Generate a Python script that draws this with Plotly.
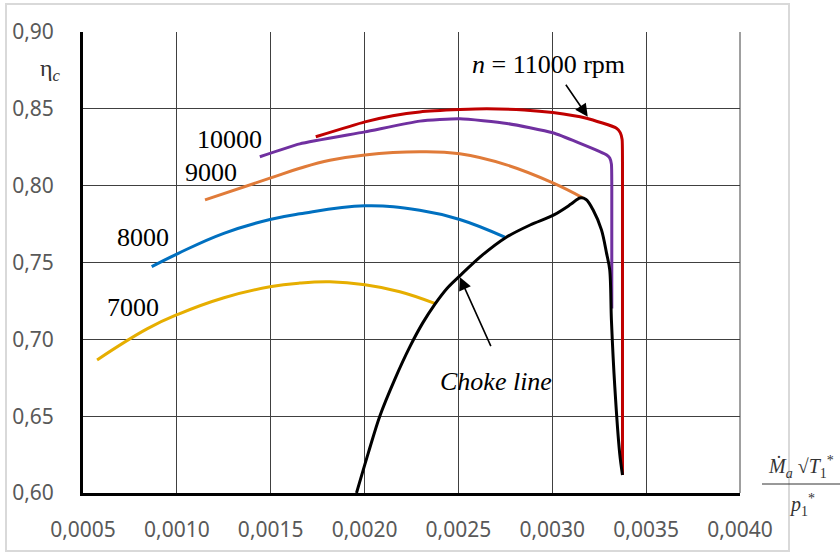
import plotly.graph_objects as go

# ---- data ----
x_7000 = [0.000575, 0.000841, 0.001006, 0.001251, 0.001496, 0.001655, 0.001815, 0.002002, 0.002188, 0.002374]
y_7000 = [0.6866, 0.7068, 0.7163, 0.7271, 0.7342, 0.7366, 0.7374, 0.7355, 0.7310, 0.7234]

x_8000 = [0.000866, 0.001008, 0.001250, 0.001496, 0.001655, 0.002002, 0.002294, 0.002507, 0.002747]
y_8000 = [0.7473, 0.7560, 0.7690, 0.7780, 0.7817, 0.7869, 0.7840, 0.7780, 0.7665]

x_9000 = [0.001150, 0.001496, 0.001655, 0.001815, 0.002002, 0.002294, 0.002507, 0.002756, 0.003003, 0.003162]
y_9000 = [0.7908, 0.8049, 0.8113, 0.8165, 0.8200, 0.8220, 0.8207, 0.8135, 0.8018, 0.7921]

x_10000 = [0.001442, 0.001655, 0.002002, 0.002294, 0.002507, 0.002758, 0.003003, 0.003253, 0.003290, 0.003306, 0.003315, 0.003317, 0.003317]
y_10000 = [0.8188, 0.8272, 0.8350, 0.8420, 0.8435, 0.8405, 0.8344, 0.8222, 0.8200, 0.8180, 0.8140, 0.8000, 0.7200]

x_11000 = [0.001740, 0.002002, 0.002150, 0.002294, 0.002507, 0.002651, 0.002850, 0.003003, 0.003182, 0.003342, 0.003362, 0.003372, 0.003374, 0.003374]
y_11000 = [0.8318, 0.8415, 0.8455, 0.8480, 0.8495, 0.8500, 0.8493, 0.8476, 0.8439, 0.8374, 0.8345, 0.8300, 0.8150, 0.6117]

x_choke = [0.001957, 0.002020, 0.002081, 0.002161, 0.002241, 0.002310, 0.002374, 0.002440, 0.002507, 0.002627, 0.002749, 0.002882, 0.003006,
           0.003100, 0.003147, 0.003180, 0.003217, 0.003262, 0.003289, 0.003306, 0.003315, 0.003333, 0.003359, 0.003374]
y_choke = [0.6000, 0.6261, 0.6500, 0.6740, 0.6951, 0.7107, 0.7228, 0.7333, 0.7413, 0.7548, 0.7660, 0.7744, 0.7808,
           0.7880, 0.7920, 0.7910, 0.7843, 0.7712, 0.7561, 0.7452, 0.7126, 0.6692, 0.6258, 0.6117]

x_ticks = [0.0005, 0.0010, 0.0015, 0.0020, 0.0025, 0.0030, 0.0035, 0.0040]
y_ticks = [0.60, 0.65, 0.70, 0.75, 0.80, 0.85, 0.90]

fig = go.Figure()

curves = [
    (x_7000, y_7000, "#E6AE00", "spline", 1.2),
    (x_8000, y_8000, "#0070C0", "spline", 1.2),
    (x_9000, y_9000, "#E07B39", "spline", 1.2),
    (x_10000, y_10000, "#7030A0", "spline", 0.5),
    (x_11000, y_11000, "#C00000", "spline", 0.5),
    (x_choke, y_choke, "#000000", "spline", 0.9),
]
for xs, ys, col, shp, sm in curves:
    fig.add_trace(go.Scatter(x=xs, y=ys, mode="lines",
                             line=dict(color=col, width=3, shape=shp, smoothing=sm),
                             showlegend=False, hoverinfo="skip"))

serif = "Liberation Serif, Times New Roman, serif"
lab_font = dict(family=serif, size=26, color="#000000")

L, T, W, H = 83, 32, 657, 461  # plot area in page pixels


def px(xp):
    return (xp - L) / W


def py(yp):
    return (T + H - yp) / H


annotations = [
    dict(x=0.002981, y=0.8786, text="<i>n</i> = 11000 rpm", showarrow=False, font=lab_font),
    dict(x=0.001283, y=0.8298, text="10000", showarrow=False, font=lab_font),
    dict(x=0.001182, y=0.8083, text="9000", showarrow=False, font=lab_font),
    dict(x=0.000820, y=0.7660, text="8000", showarrow=False, font=lab_font),
    dict(x=0.000766, y=0.7204, text="7000", showarrow=False, font=lab_font),
    dict(x=0.002699, y=0.6723, text="<i>Choke line</i>", showarrow=False, font=lab_font),
    # arrows
    dict(x=0.003189, y=0.8448, ax=0.003051, ay=0.8695, axref="x", ayref="y", text=" ",
         showarrow=True, arrowhead=2, arrowsize=1.6, arrowwidth=1.6, arrowcolor="#000"),
    dict(x=0.002507, y=0.7405, ax=0.002694, ay=0.6898, axref="x", ayref="y", text=" ",
         showarrow=True, arrowhead=2, arrowsize=1.6, arrowwidth=1.6, arrowcolor="#000"),
    # y axis title
    dict(xref="paper", yref="paper", x=px(50), y=py(70), xanchor="center", yanchor="middle",
         text="η<sub><i>c</i></sub>", showarrow=False,
         font=dict(family=serif, size=24, color="#333333")),
    # x axis title (fraction)
    dict(xref="paper", yref="paper", x=px(801), y=py(467), xanchor="center", yanchor="middle",
         text="<i>Ṁ</i><sub><i>a</i></sub> √<i>T</i><sub>1</sub><sup>*</sup>", showarrow=False,
         font=dict(family=serif, size=20, color="#333333")),
    dict(xref="paper", yref="paper", x=px(802), y=py(505), xanchor="center", yanchor="middle",
         text="<i>p</i><sub>1</sub><sup>*</sup>", showarrow=False,
         font=dict(family=serif, size=20, color="#333333")),
]

shapes = [
    # outer light border
    dict(type="rect", xref="paper", yref="paper",
         x0=px(6), x1=px(789), y0=py(551), y1=py(4),
         line=dict(color="#D9D9D9", width=2), layer="below"),
    # right edge grid line
    dict(type="line", xref="paper", yref="paper", x0=1, x1=1, y0=0, y1=1,
         line=dict(color="#404040", width=1)),
    # fraction bar
    dict(type="line", xref="paper", yref="paper",
         x0=px(762), x1=px(840), y0=py(484), y1=py(484),
         line=dict(color="#333333", width=1)),
]

fig.update_layout(
    width=840, height=552,
    margin=dict(l=L, r=840 - L - W, t=T, b=552 - T - H, autoexpand=False),
    plot_bgcolor="white", paper_bgcolor="white",
    separators=", ",
    annotations=annotations, shapes=shapes,
    font=dict(family="Noto Sans, sans-serif", size=21, color="#595959"),
)
fig.update_xaxes(range=[0.0005, 0.0040], tickvals=x_ticks, tickformat=".4f",
                 showgrid=True, gridcolor="#404040", gridwidth=1,
                 showline=True, linecolor="#000000", linewidth=3, mirror=False,
                 zeroline=False, ticks="", ticklabelstandoff=16, automargin=False,
                 tickfont=dict(family="Noto Sans, sans-serif", size=21, color="#595959"))
fig.update_yaxes(range=[0.60, 0.90], tickvals=y_ticks, tickformat=".2f",
                 showgrid=True, gridcolor="#404040", gridwidth=1,
                 showline=True, linecolor="#000000", linewidth=3, mirror=False,
                 zeroline=False, ticks="", ticklabelstandoff=22, automargin=False,
                 tickfont=dict(family="Noto Sans, sans-serif", size=21, color="#595959"))

fig.write_html("out.html", config={"displayModeBar": False},
               post_script="document.body.style.margin='0';document.body.style.overflow='hidden';")
